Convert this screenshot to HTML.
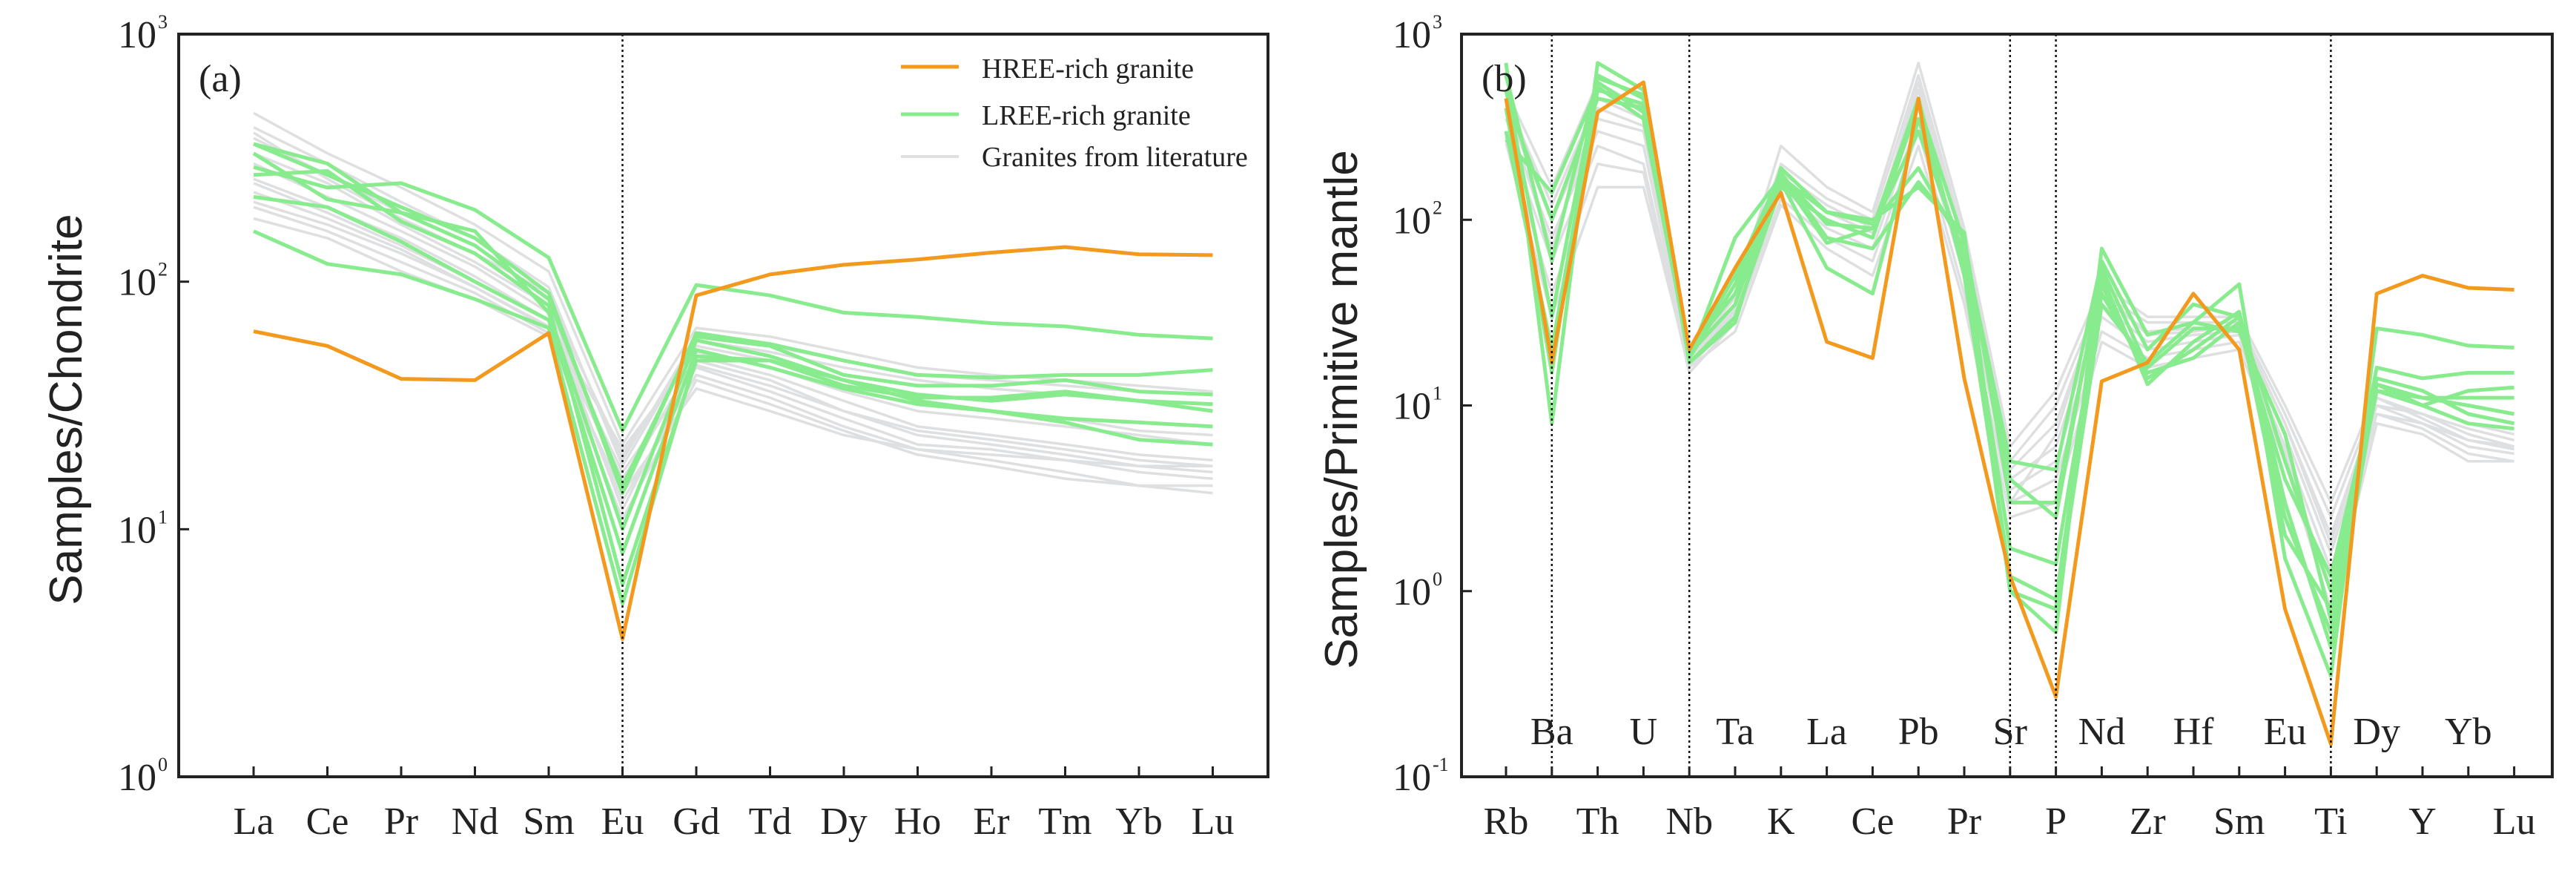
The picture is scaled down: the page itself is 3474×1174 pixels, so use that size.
<!DOCTYPE html>
<html><head><meta charset="utf-8">
<style>
html,body{margin:0;padding:0;background:#fff;}
svg{display:block;}
text{font-family:"Liberation Serif",serif;fill:#222;}
.ytitle{font-family:"Liberation Sans",sans-serif;font-size:62px;fill:#222;}
</style></head>
<body>
<svg id="chart" width="3474" height="1174" viewBox="0 0 3474 1174" xmlns="http://www.w3.org/2000/svg">
<g id="pa"></g>
<g id="pb"></g>
</svg>
<script>
// ---------- Panel (a) data: chondrite-normalized REE ----------
const catsA = ["La","Ce","Pr","Nd","Sm","Eu","Gd","Td","Dy","Ho","Er","Tm","Yb","Lu"];
const orangeA = [63,55,40.5,40,62,3.6,88,107,117,123,131,138,129,128];
const greenA1 = [360,300,190,140,85,15,60,55,42,38,38,40,36,35];
const greenA2 = [290,240,250,195,125,25,97,88,75,72,68,66,61,59];
const greenA3 = [220,200,145,100,70,8,53,45,37,32,30,28,27,26];
const greenA4 = [160,118,107,85,65,5,50,48,40,35,33,35,33,30];
const greenA5 = [360,270,200,150,90,14,62,56,48,42,41,42,42,44];
const greenA6 = [270,280,175,130,80,6,48,48,38,34,34,36,33,32];
const greenA7 = [330,215,190,160,75,10,58,50,40,33,30,27,23,22];
const grayA1 = [480,330,240,170,110,22,65,60,52,45,42,40,38,36];
const grayA2 = [420,300,210,150,95,18,58,52,45,40,37,35,33,32];
const grayA3 = [380,270,190,140,85,20,55,48,40,33,30,28,25,24];
const grayA4 = [330,250,170,120,80,15,50,42,33,26,24,22,20,19];
const grayA5 = [300,220,160,115,75,12,48,40,30,24,22,20,18,17];
const grayA6 = [260,200,150,105,70,17,45,36,28,22,21,19,17,16];
const grayA7 = [230,180,135,95,65,13,42,34,26,21,19,17,15,15];
const grayA8 = [200,160,120,90,62,11,40,32,25,20,18,16,15,14];
const grayA9 = [180,150,110,85,60,14,37,30,24,21,20,19,18,18];
const grayA10 = [400,260,180,130,90,19,60,55,48,42,40,38,36,35];
const grayA11 = [250,190,140,100,70,21,52,45,36,30,28,26,24,22];
const grayA12 = [210,170,130,95,66,16,46,38,30,25,23,21,19,18];
const greensA = [greenA1,greenA2,greenA3,greenA4,greenA5,greenA6,greenA7];
const graysA = [grayA1,grayA2,grayA3,grayA4,grayA5,grayA6,grayA7,grayA8,grayA9,grayA10,grayA11,grayA12];
const ticksA = [0,1,2,3];

// ---------- Panel (b) data: primitive-mantle-normalized ----------
const catsB = ["Rb","Ba","Th","U","Nb","Ta","K","La","Ce","Pb","Pr","Sr","P","Nd","Zr","Hf","Sm","Eu","Ti","Dy","Y","Yb","Lu"];
const orangeB = [450,17,380,550,20,55,140,22,18,450,14,1.2,0.27,13.5,17,40,20,0.8,0.15,40,50,43,42];
const greenB1 = [700,8,700,500,17,28,190,110,100,150,85,1.0,0.6,70,24,28,45,1.5,0.35,26,24,21,20.5];
const greenB2 = [400,15,600,450,18,80,170,110,95,190,70,5,4.5,60,20,35,30,2,0.8,16,14,15,15];
const greenB3 = [300,20,500,420,19,50,180,80,70,160,80,3,3,50,13,22,32,3,0.5,13,10,12,12.5];
const greenB4 = [500,30,550,380,20,40,160,55,40,350,60,1.7,1.4,40,15,18,28,2.5,0.6,14,12,9,8];
const greenB5 = [600,60,580,470,17,30,150,100,80,420,75,4,2.5,55,16,26,26,4,1.2,13,11,10,9];
const greenB6 = [270,140,520,350,19,35,175,95,90,450,50,1.2,0.9,45,14,20,30,5,1.0,12,10,8,7.5];
const greenB7 = [450,100,450,400,18,45,170,75,90,300,65,1.0,0.8,35,17,28,25,7,0.7,12,11,11,11];
const grayB1 = [500,150,550,400,20,40,250,150,110,700,90,6,12,45,30,30,30,10,3,12,10,8,7];
const grayB2 = [450,120,450,350,19,38,200,130,100,600,80,5,10,40,28,28,28,9,2.5,11,9,7.5,6.5];
const grayB3 = [400,100,350,300,18,35,180,120,90,500,70,4.5,8,38,25,26,26,8,2,10,9,7,6];
const grayB4 = [350,80,300,250,17,32,160,100,80,400,60,4,6,35,22,24,25,7,1.6,10,8,6.5,6];
const grayB5 = [300,60,250,200,16,30,150,90,70,350,50,3.5,5,30,20,22,24,6,1.3,9,8,6,5.5];
const grayB6 = [280,40,200,180,15,28,130,80,60,300,40,3,4,25,18,20,22,5.5,1,9,7.5,5.5,5];
const grayB7 = [260,30,150,150,16,25,120,70,50,250,35,2.5,3,22,16,18,20,5,0.8,8,7,5,5];
const grayB8 = [380,70,400,320,18,33,170,110,85,550,75,3,7,42,24,25,27,8,1.8,11,8.5,6.5,5.8];
const graysB = [grayB1,grayB2,grayB3,grayB4,grayB5,grayB6,grayB7,grayB8];
const greensB = [greenB1,greenB2,greenB3,greenB4,greenB5,greenB6,greenB7];
const ticksB = [-1,0,1,2,3];
const dottedB = ["Ba","Nb","Sr","P","Ti"];

const NS = "http://www.w3.org/2000/svg";
const ORANGE = "#F39A1E", GREEN = "#88EC8E", GRAY = "#DEDFE1";
function mk(tag, attrs, parent){
  const e = document.createElementNS(NS, tag);
  for (const k in attrs) e.setAttribute(k, attrs[k]);
  parent.appendChild(e);
  return e;
}
function drawPanel(g, cfg){
  const {left,right,top,bottom,x0,dx,minExp,maxExp,cats} = cfg;
  const xs = i => x0 + i*dx;
  const ys = v => bottom - (Math.log10(v)-minExp)/(maxExp-minExp)*(bottom-top);
  const pathOf = arr => arr.map((v,i)=>(i?"L":"M")+xs(i).toFixed(1)+","+ys(v).toFixed(1)).join("");
  const series = (arr, color, w, name) => {
    const p = mk("path",{d:pathOf(arr),fill:"none",stroke:color,"stroke-width":w,"stroke-linejoin":"round"},g);
    
    
  };
  cfg.grays.forEach((s,i)=>series(s,GRAY,3.5,"literature-line-"+(i+1)));
  cfg.greens.forEach((s,i)=>series(s,GREEN,5,"lree-line-"+(i+1)));
  series(cfg.orange,ORANGE,5,"hree-line");
  cfg.dotted.forEach(c=>{
    const x = xs(cats.indexOf(c));
    const l = mk("line",{x1:x,y1:top,x2:x,y2:bottom,stroke:"#111","stroke-width":2.5,"stroke-dasharray":"3 4"},g);
    
    
  });
  const f = mk("rect",{x:left,y:top,width:right-left,height:bottom-top,fill:"none",stroke:"#222","stroke-width":4},g);
  
  
  cats.forEach((c,i)=>{
    const x = xs(i);
    const t = mk("line",{x1:x,y1:bottom,x2:x,y2:bottom-14,stroke:"#222","stroke-width":3},g);
    
    
    const up = cfg.alternate && (i%2===1);
    const tx = mk("text",{x:x,y:up?1003:1124,"text-anchor":"middle","font-size":52},g);
    tx.textContent = c;
    
    
  });
  cfg.ticks.forEach(e=>{
    const y = ys(Math.pow(10,e));
    if (e>minExp && e<maxExp){
      const t = mk("line",{x1:left,y1:y,x2:left+14,y2:y,stroke:"#222","stroke-width":3},g);
      
      
    }
    const tx = mk("text",{x:cfg.labelX,y:y+18,"text-anchor":"end","font-size":52},g);
    tx.textContent = "10";
    
    
    const sp = mk("text",{x:cfg.labelX+2,y:y-8,"font-size":26},g);
    sp.textContent = String(e);
    
    
  });
  const cy = 552;
  const tt = mk("text",{x:cfg.titleX,y:cy,"text-anchor":"middle",class:"ytitle",transform:"rotate(-90 "+cfg.titleX+" "+cy+")"},g);
  tt.textContent = cfg.title;
  
  
  const pl = mk("text",{x:left+27,y:123,"font-size":52},g);
  pl.textContent = cfg.panelLabel;
  
  
}
drawPanel(document.getElementById("pa"),{
  left:241,right:1710,top:46,bottom:1047,x0:342,dx:99.5,minExp:0,maxExp:3,cats:catsA,
  grays:graysA,greens:greensA,orange:orangeA,dotted:["Eu"],ticks:ticksA,alternate:false,
  labelX:211,titleX:110,title:"Samples/Chondrite",panelLabel:"(a)"
});
drawPanel(document.getElementById("pb"),{
  left:1971,right:3442,top:46,bottom:1047,x0:2031,dx:61.8,minExp:-1,maxExp:3,cats:catsB,
  grays:graysB,greens:greensB,orange:orangeB,dotted:dottedB,ticks:ticksB,alternate:true,
  labelX:1930,titleX:1830,title:"Samples/Primitive mantle",panelLabel:"(b)"
});
const leg = document.getElementById("pa");
const legendG = mk("g",{},leg);


[["HREE-rich granite",ORANGE,90,105,5],["LREE-rich granite",GREEN,154,168,5],["Granites from literature",GRAY,211,224,4]].forEach(r=>{
  const l = mk("line",{x1:1215,y1:r[2],x2:1293,y2:r[2],stroke:r[1],"stroke-width":r[4]},legendG);
  
  
  const t = mk("text",{x:1324,y:r[3],"font-size":38},legendG);
  t.textContent = r[0];
  
  
});
</script>
</body></html>
